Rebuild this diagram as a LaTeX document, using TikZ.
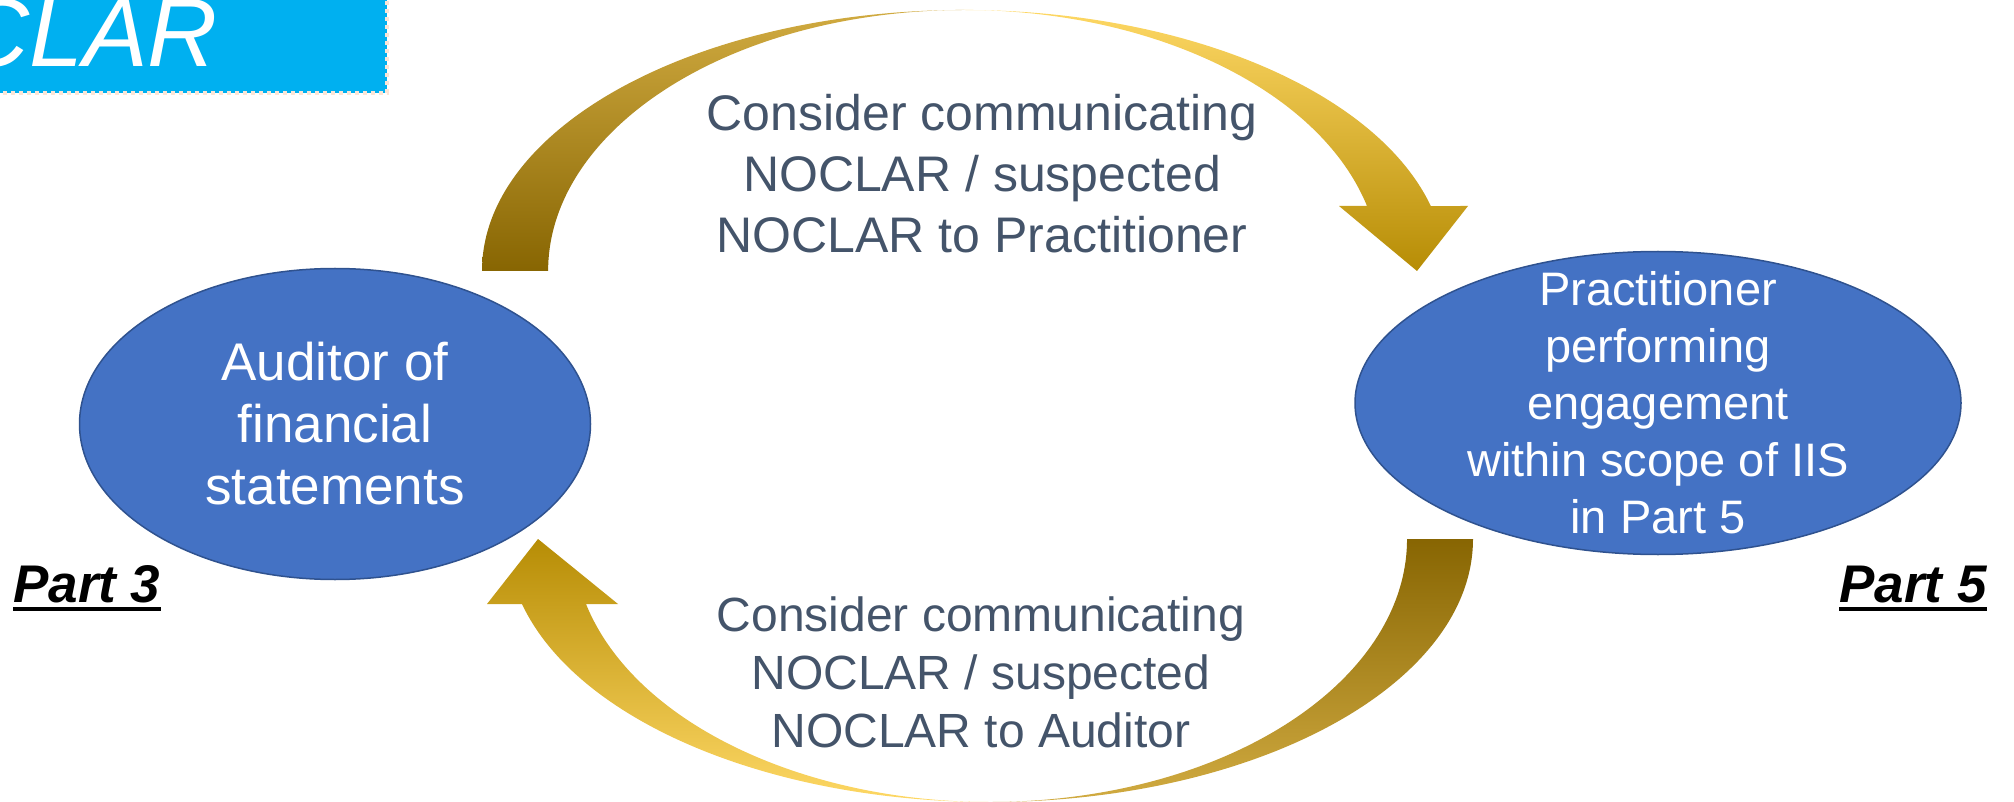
\documentclass[tikz,border=0pt]{standalone}
\usepackage{fontspec}
\setmainfont{Liberation Sans}
\usetikzlibrary{shapes.geometric}
\definecolor{ellfill}{HTML}{4472C4}
\definecolor{ellborder}{HTML}{2F528F}
\definecolor{slate}{HTML}{44546A}
\definecolor{boxblue}{HTML}{00B0F0}
\definecolor{boxdots}{HTML}{FBE5D6}
\definecolor{gdark}{HTML}{856300}
\definecolor{gmid}{HTML}{D0A000}
\definecolor{glight}{HTML}{D2AC42}
\definecolor{yhead}{HTML}{B48A02}
\definecolor{ymid}{HTML}{FFC000}
\definecolor{ytop}{HTML}{FFD966}
\begin{document}
\begin{tikzpicture}[x=1pt,y=-1pt,
  ell/.style={ellipse, draw=ellborder, fill=ellfill, line width=1.5pt, inner sep=0pt},
  elltext/.style={text=white, align=center, inner sep=0pt},
  midtext/.style={text=slate, align=center, inner sep=0pt},
  parttext/.style={inner sep=0pt, font={\fontsize{53}{62}\selectfont\bfseries\itshape}},
  underl/.style={line width=4pt}]
\useasboundingbox (0,0) rectangle (2014,802);

% top-left box
\path[fill=boxblue, draw=boxdots, line width=3.5pt, dash pattern=on 4pt off 4pt]
  (-20,-20) rectangle (387,93);
\node[anchor=base east, inner sep=0pt, text=white,
  font={\fontsize{97}{110}\selectfont\itshape}] (title) at (218,67) {NOCLAR};

% top arrow
\begin{scope}
  \clip (482,271) arc[start angle=180, end angle=14.42, x radius=482pt, y radius=261pt]
    -- (1468,206) -- (1417,271) -- (1339,206) -- (1367,206)
    arc[start angle=14.42, end angle=180, x radius=416pt, y radius=261pt] -- cycle;
  \shade[top color=glight, middle color=gmid, bottom color=gdark] (470,5) rectangle (964,280);
  \shade[top color=ytop, middle color=ymid, bottom color=yhead] (964,5) rectangle (1480,280);
\end{scope}

% bottom arrow
\begin{scope}
  \clip (1473,539) arc[start angle=0, end angle=-165.69, x radius=483pt, y radius=263pt]
    -- (487,604) -- (538,539) -- (618,604) -- (586,604)
    arc[start angle=194.31, end angle=360, x radius=417pt, y radius=263pt] -- cycle;
  \shade[top color=gdark, middle color=gmid, bottom color=glight] (990,530) rectangle (1490,806);
  \shade[top color=yhead, middle color=ymid, bottom color=ytop] (470,530) rectangle (990,806);
\end{scope}

% ellipses
\node[ell, minimum width=511pt, minimum height=311pt] (aud) at (335,424) {};
\node[elltext, font={\fontsize{53}{62}\selectfont}] (audtext) at (aud.center)
  {Auditor of\\financial\\statements};
\node[ell, minimum width=606pt, minimum height=303pt] (prac) at (1658,403) {};
\node[elltext, font={\fontsize{47}{57}\selectfont}] (practext) at (prac.center)
  {Practitioner\\performing\\engagement\\within scope of IIS\\in Part 5};

% middle texts
\node[midtext, font={\fontsize{50}{61}\selectfont}] (toprac) at (982,174)
  {Consider communicating\\NOCLAR / suspected\\NOCLAR to Practitioner};
\node[midtext, font={\fontsize{48}{58}\selectfont}] (toaud) at (981,672)
  {Consider communicating\\NOCLAR / suspected\\NOCLAR to Auditor};

% part labels
\node[parttext, anchor=base west] (p3) at (13,602) {Part 3};
\draw[underl] ([yshift=-7pt]p3.base west) -- ([yshift=-7pt]p3.base east);
\node[parttext, anchor=base east] (p5) at (1987,602) {Part 5};
\draw[underl] ([yshift=-7pt]p5.base west) -- ([yshift=-7pt]p5.base east);
\end{tikzpicture}
\end{document}
